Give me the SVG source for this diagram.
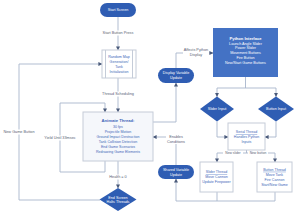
<svg xmlns="http://www.w3.org/2000/svg" width="300" height="220" viewBox="0 0 300 220">
<style>
text{font-family:"Liberation Sans",Arial,sans-serif;text-anchor:middle;}
.lbl{font-size:3.8px;fill:#5a6275;}
.w{font-size:3.7px;fill:#ffffff;}
.wb{font-size:4.1px;fill:#ffffff;font-weight:bold;}
.b{font-size:3.6px;fill:#3d66b8;}
.bb{font-size:4.2px;fill:#3d66b8;font-weight:bold;}
.u{text-decoration:underline;}
.pill{fill:#2f5db3;}
.box{fill:#ffffff;stroke:#c5ccd8;stroke-width:1;}
.con{fill:none;stroke:#a8b5cc;stroke-width:0.9;}
.bg{fill:#ffffff;}
</style>
<defs>
<marker id="ah" markerUnits="userSpaceOnUse" markerWidth="4" markerHeight="4" refX="3.6" refY="2" orient="auto">
<path d="M0,0 L4,2 L0,4 z" fill="#4a5a7a"/>
</marker>
</defs>
<rect width="300" height="220" fill="#ffffff"/>
<g id="connectors">
<path class="con" d="M118 17 V50" marker-end="url(#ah)"/>
<path class="con" d="M118 78 V112" marker-end="url(#ah)"/>
<path class="con" d="M105 161 V172 H60 V103 H105 V112" marker-end="url(#ah)"/>
<path class="con" d="M100 200 H19 V64 H102" marker-end="url(#ah)"/>
<path class="con" d="M118 161 V188" marker-end="url(#ah)"/>
<path class="con" d="M153 122 H176 V83" marker-end="url(#ah)"/>
<path class="con" d="M176 68 V53 H213" marker-end="url(#ah)"/>
<path class="con" d="M245.5 77 V88 M217 88 H276"/>
<path class="con" d="M217 88 V96.5" marker-end="url(#ah)"/>
<path class="con" d="M276 88 V96.5" marker-end="url(#ah)"/>
<path class="con" d="M217 121.5 V137 H228" marker-end="url(#ah)"/>
<path class="con" d="M276 121.5 V137 H265" marker-end="url(#ah)"/>
<path class="con" d="M246.5 150 V153 M217 153 H275"/>
<path class="con" d="M217 153 V162" marker-end="url(#ah)"/>
<path class="con" d="M275 153 V162" marker-end="url(#ah)"/>
<path class="con" d="M217 192 V201 M275 192 V201 H176 V179" marker-end="url(#ah)"/>
<path class="con" d="M176 165 V137 H153" marker-end="url(#ah)"/>
<rect class="bg" x="100" y="30.5" width="36" height="5"/>
<text class="lbl" x="118" y="34.3">Start Button Press</text>
<rect class="bg" x="101" y="91.5" width="34" height="5"/>
<text class="lbl" x="118" y="95.3">Thread Scheduling</text>
<rect class="bg" x="42" y="135.5" width="36" height="5"/>
<text class="lbl" x="60" y="139.3">Yield Until 33msec</text>
<rect class="bg" x="3" y="129.5" width="32" height="5"/>
<text class="lbl" x="19" y="133.3">New Game Button</text>
<rect class="bg" x="107" y="174.5" width="22" height="5"/>
<text class="lbl" x="118" y="178.3">Health = 0</text>
<rect class="bg" x="183" y="47.5" width="26" height="10"/>
<text class="lbl" x="196" y="51.2">Affects Python</text>
<text class="lbl" x="196" y="56">Display</text>
<rect class="bg" x="166" y="134" width="20" height="10"/>
<text class="lbl" x="176" y="137.9">Enables</text>
<text class="lbl" x="176" y="142.6">Conditions</text>
<rect class="bg" x="223" y="151" width="20" height="4"/>
<text class="lbl" x="233" y="154.1" style="font-size:3.3px">New slider</text>
<rect class="bg" x="248" y="151" width="20" height="4"/>
<text class="lbl" x="258" y="154.1" style="font-size:3.3px">New button</text>
</g>
<g id="start">
<rect class="pill" x="100" y="3" width="36" height="14" rx="7"/>
<text class="w" x="118" y="11.3">Start Screen</text>
</g>
<g id="randmap">
<rect class="box" x="102" y="50" width="34" height="28"/>
<line x1="105.5" y1="50" x2="105.5" y2="78" stroke="#c5ccd8" stroke-width="1"/>
<line x1="132.5" y1="50" x2="132.5" y2="78" stroke="#c5ccd8" stroke-width="1"/>
<text class="b" x="119" y="57.8">Random Map</text>
<text class="b" x="119" y="62.8">Generation/</text>
<text class="b" x="119" y="67.8">Tank</text>
<text class="b" x="119" y="72.8">Initialization</text>
</g>
<g id="animate">
<rect class="box" x="83" y="112" width="70" height="49" style="fill:#f5f7fb"/>
<text class="bb" x="118" y="121.5">Animate Thread:</text>
<text class="b" x="118" y="127.8">30 fps</text>
<text class="b" x="118" y="132.8">Projectile Motion</text>
<text class="b" x="118" y="137.8">Ground Impact Destruction</text>
<text class="b" x="118" y="142.8">Tank Collision Detection</text>
<text class="b" x="118" y="147.8">End Game Scenarios</text>
<text class="b" x="118" y="152.8">Redrawing Game Elements</text>
</g>
<g id="endscreen">
<polygon class="pill" points="118,188 136.5,199.5 118,211 99.5,199.5"/>
<text class="w" x="118" y="198.6">End Screen</text>
<text class="w" x="118" y="203.3">Halts Threads</text>
</g>
<g id="display">
<rect class="pill" x="158" y="68" width="36" height="15" rx="7.5"/>
<text class="w" x="176" y="74.4">Display Variable</text>
<text class="w" x="176" y="79.1">Update</text>
</g>
<g id="python">
<rect x="213" y="28" width="65" height="49" fill="#4472c4"/>
<text class="wb" x="245.5" y="39.6">Python Interface</text>
<text class="w" x="245.5" y="44.6">Launch Angle Slider</text>
<text class="w" x="245.5" y="49.4">Power Slider</text>
<text class="w" x="245.5" y="54.2">Movement Buttons</text>
<text class="w" x="245.5" y="59">Fire Button</text>
<text class="w" x="245.5" y="63.8">New/Start Game Buttons</text>
</g>
<g id="sliderinput">
<polygon class="pill" points="217,96.5 234,109 217,121.5 200,109"/>
<text class="w" x="217" y="110.3">Slider Input</text>
</g>
<g id="buttoninput">
<polygon class="pill" points="276,96.5 294,109 276,121.5 258,109"/>
<text class="w" x="276" y="110.3">Button Input</text>
</g>
<g id="serial">
<rect class="box" x="228" y="123" width="37" height="27"/>
<text class="b u" x="246.5" y="133.4">Serial Thread</text>
<text class="b" x="246.5" y="138.3">Handles Python</text>
<text class="b" x="246.5" y="143.1">Inputs</text>
</g>
<g id="sliderthread">
<rect class="box" x="200" y="162" width="33" height="30"/>
<text class="b u" x="216.5" y="173.2">Slider Thread</text>
<text class="b" x="216.5" y="178.2">Move Cannon</text>
<text class="b" x="216.5" y="183.2">Update Firepower</text>
</g>
<g id="buttonthread">
<rect class="box" x="257" y="162" width="35" height="30"/>
<text class="b u" x="274.5" y="170.8">Button Thread</text>
<text class="b" x="274.5" y="175.8">Move Tank</text>
<text class="b" x="274.5" y="180.8">Fire Cannon</text>
<text class="b" x="274.5" y="185.8">Start/New Game</text>
</g>
<g id="shared">
<rect class="pill" x="158" y="165" width="36" height="14" rx="7"/>
<text class="w" x="176" y="171">Shared Variable</text>
<text class="w" x="176" y="175.7">Update</text>
</g>
</svg>
